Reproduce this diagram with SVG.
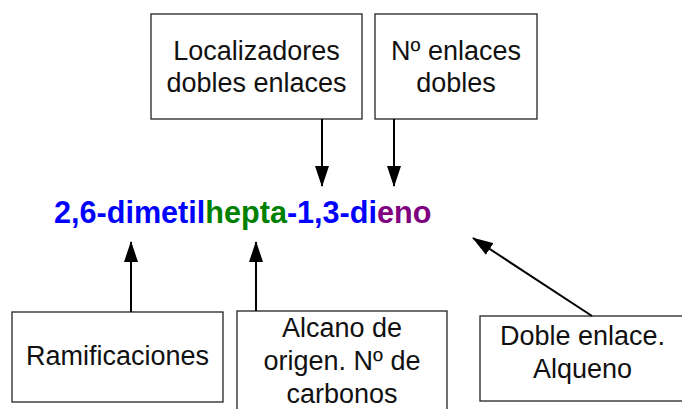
<svg xmlns="http://www.w3.org/2000/svg" width="682" height="409" viewBox="0 0 682 409">
<style>
.box{fill:#fff;stroke:#222;stroke-width:1.3}
.lbl{font-family:"Liberation Sans",Arial,sans-serif;font-size:27px;fill:#111;text-anchor:middle}
.con{stroke:#000;stroke-width:2;fill:none}
.f{font-family:"Liberation Sans",Arial,sans-serif;font-size:30.6px;font-weight:bold}
</style>
<defs>
<marker id="ah" markerWidth="21" markerHeight="14" refX="20" refY="7" viewBox="0 0 21 14" markerUnits="userSpaceOnUse" orient="auto">
<path d="M0,0 L21,7 L0,14 Z" fill="#000"/>
</marker>
</defs>
<rect width="682" height="409" fill="#fff"/>
<g id="n-localizadores">
<rect class="box" x="151" y="14" width="211" height="105"/>
<text class="lbl" x="256.5" y="60">Localizadores</text>
<text class="lbl" x="256.5" y="92">dobles enlaces</text>
</g>
<g id="n-numenlaces">
<rect class="box" x="375" y="14" width="162" height="105"/>
<text class="lbl" x="456" y="60">Nº enlaces</text>
<text class="lbl" x="456" y="92">dobles</text>
</g>
<g id="n-formula">
<text class="f" x="54" y="223"><tspan fill="#0000ff">2,6-dimetil</tspan><tspan fill="#008000">hepta</tspan><tspan fill="#0000ff">-1,3-di</tspan><tspan fill="#800080">eno</tspan></text>
</g>
<g id="n-ramificaciones">
<rect class="box" x="12" y="312" width="211" height="90"/>
<text class="lbl" x="117.5" y="365">Ramificaciones</text>
</g>
<g id="n-alcano">
<rect class="box" x="237" y="311" width="210" height="110"/>
<text class="lbl" x="342" y="337">Alcano de</text>
<text class="lbl" x="342" y="370">origen. Nº de</text>
<text class="lbl" x="342" y="403">carbonos</text>
</g>
<g id="n-doble">
<rect class="box" x="480" y="316" width="206" height="85"/>
<text class="lbl" x="582.5" y="345">Doble enlace.</text>
<text class="lbl" x="582.5" y="378">Alqueno</text>
</g>
<g id="connectors">
<line class="con" x1="322" y1="119" x2="322" y2="186" marker-end="url(#ah)"/>
<line class="con" x1="394" y1="119" x2="394" y2="186" marker-end="url(#ah)"/>
<line class="con" x1="131" y1="312" x2="131" y2="242" marker-end="url(#ah)"/>
<line class="con" x1="256" y1="311" x2="256" y2="242" marker-end="url(#ah)"/>
<line class="con" x1="592" y1="316" x2="473" y2="238" marker-end="url(#ah)"/>
</g>
</svg>
